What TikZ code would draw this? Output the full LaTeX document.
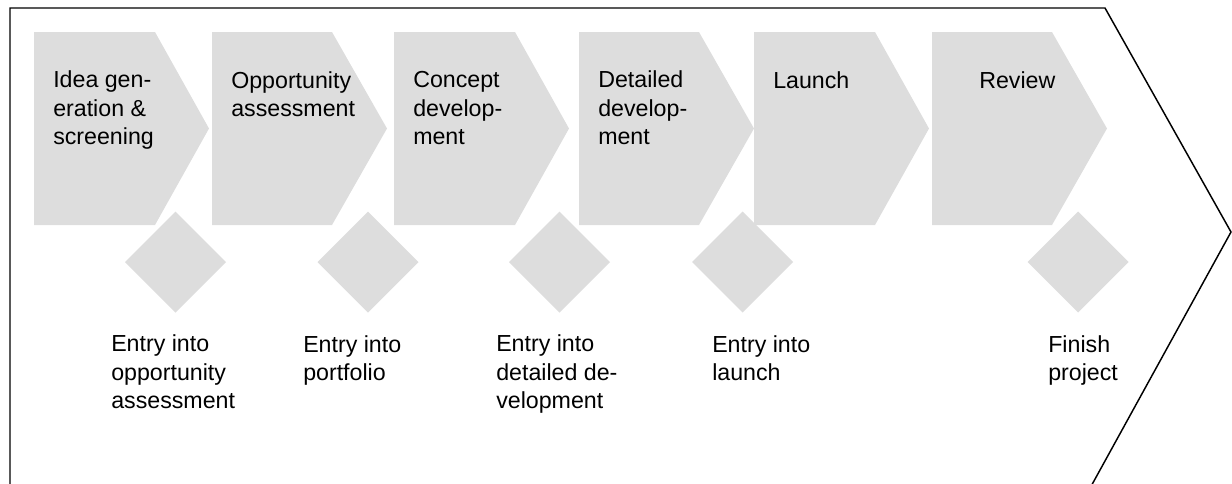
\documentclass[tikz,border=0pt]{standalone}
\usepackage{fontspec}
\setmainfont{Liberation Sans}
\definecolor{stepgray}{RGB}{221,221,221}
\tikzset{
  stagefill/.style={fill=stepgray},
  gatefill/.style={fill=stepgray},
  stagetext/.style={anchor=base west, inner sep=0pt, align=left, font=\fontsize{17.4pt}{21.2pt}\selectfont},
  outline/.style={draw=black, line width=1.1pt, line join=miter}
}
\begin{document}
\begin{tikzpicture}[x=0.75pt, y=-0.75pt]
\useasboundingbox (0,0) rectangle (1232,483);
\begin{scope}
\clip (0,0) rectangle (1232,483);
% outer chevron outline
\coordinate (o1) at (10,490);
\coordinate (o2) at (10,8);
\coordinate (o3) at (1105,8);
\coordinate (o4) at (1231,232);
\coordinate (o5) at (1089,490);
\draw[outline] (o1) -- (o2) -- (o3) -- (o4) -- (o5);
\end{scope}
% stage pentagons: left, rect-right, tip
\foreach \l/\r/\t in {34/155/209, 212/332/387, 394/515/569, 579/699/754, 754/875/929, 932/1052/1107}{
  \fill[stagefill] (\l,32) -- (\r,32) -- (\t,128.5) -- (\r,225) -- (\l,225) -- cycle;
}
% gate diamonds
\foreach \c in {175.5, 368, 559.5, 742.5, 1078}{
  \fill[gatefill] (\c,211.5) -- (\c+50.5,262) -- (\c,312.5) -- (\c-50.5,262) -- cycle;
}
% stage labels (base anchor = baseline of last line)
\node[stagetext] (s1) at (53,144.5) {Idea gen-\\eration \&\\screening};
\node[stagetext] (s2) at (231,116.3) {Opportunity\\assessment};
\node[stagetext] (s3) at (413,144.5) {Concept\\develop-\\ment};
\node[stagetext] (s4) at (598,144.5) {Detailed\\develop-\\ment};
\node[stagetext] (s5) at (773,88) {Launch};
\node[stagetext] (s6) at (979,88) {Review};
% gate labels
\node[stagetext] (g1) at (111,408.5) {Entry into\\opportunity\\assessment};
\node[stagetext] (g2) at (303,380.3) {Entry into\\portfolio};
\node[stagetext] (g3) at (496,408.5) {Entry into\\detailed de-\\velopment};
\node[stagetext] (g4) at (712,380.3) {Entry into\\launch};
\node[stagetext] (g5) at (1048,380.3) {Finish\\project};
\end{tikzpicture}
\end{document}
